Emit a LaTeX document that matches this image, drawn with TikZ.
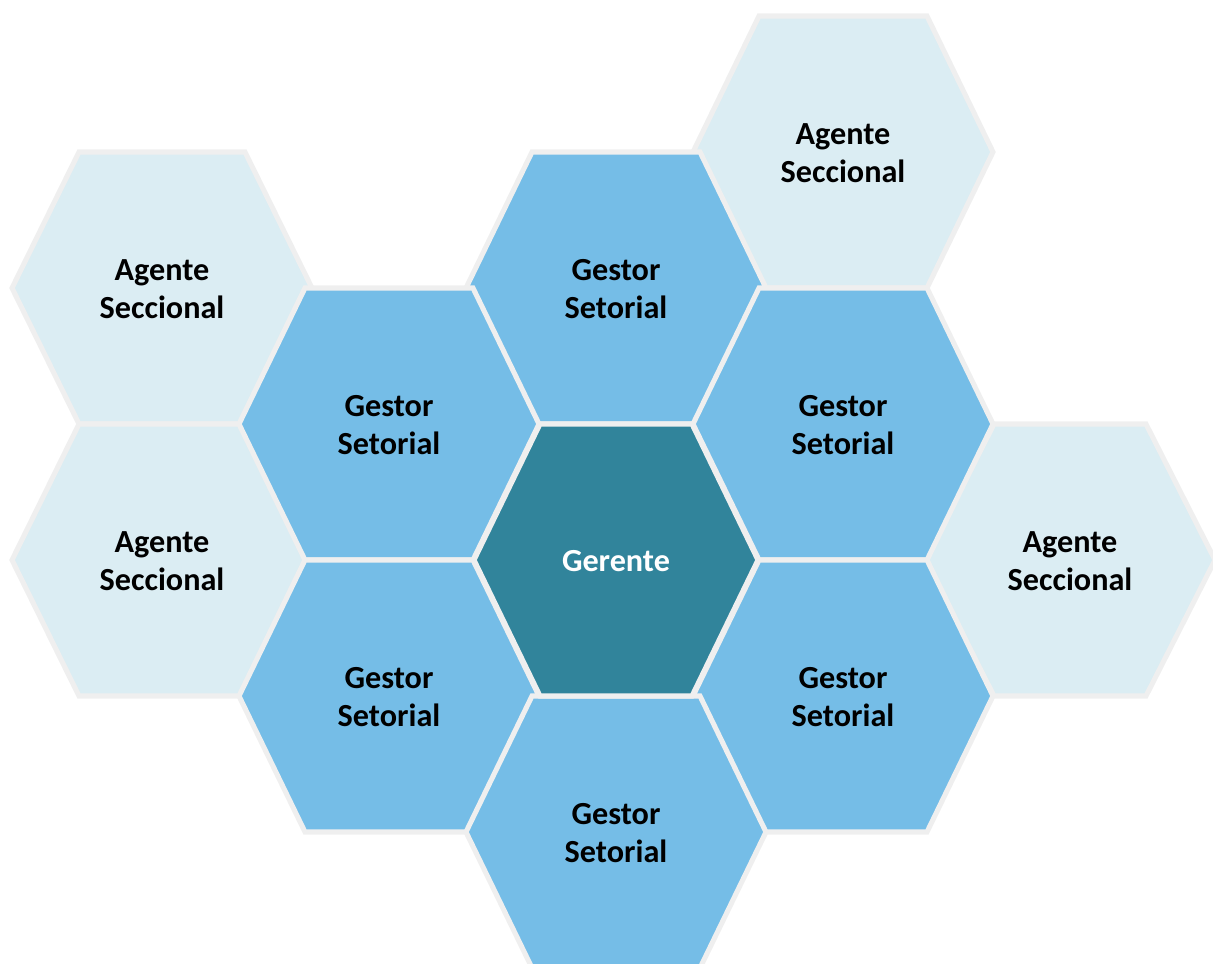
\documentclass[tikz,border=0pt]{standalone}
\usepackage{fontspec}
\setmainfont{Carlito}
\usetikzlibrary{positioning}

\definecolor{hexline}{HTML}{EFEFEF}
\definecolor{gerentefill}{HTML}{31849B}
\definecolor{gestorfill}{HTML}{75BDE7}
\definecolor{agentefill}{HTML}{DBEDF3}

\begin{document}
\begin{tikzpicture}[x=0.025cm,y=-0.025cm,
  hexcell/.style   ={draw=hexline,line width=3.6pt,line join=miter},
  gerentecell/.style={hexcell,fill=gerentefill},
  gestorcell/.style ={hexcell,fill=gestorfill},
  agentecell/.style ={hexcell,fill=agentefill},
  celltext/.style  ={align=center,font=\bfseries\fontsize{22.9}{26.6}\selectfont,inner sep=0pt},
  gerentetext/.style={celltext,text=white},
  gestortext/.style ={celltext,text=black},
  agentetext/.style ={celltext,text=black}
]
  % ----- frame of the picture -----
  \path[use as bounding box] (0,0) rectangle (1213,963);
  \clip (0,0) rectangle (1213,963);

  % ----- half height of every cell -----
  \def\hh{136}

  % ----- outer ring: agentes -----
  \foreach \nm/\cx/\cy/\R/\a in {agUL/162/288/150/83, agLL/162/560/150/83,
                                 agTR/843/152/150/84, agR/1070/560/145/76}{
    \draw[agentecell] (\cx-\R,\cy) -- (\cx-\a,\cy-\hh) -- (\cx+\a,\cy-\hh)
      -- (\cx+\R,\cy) -- (\cx+\a,\cy+\hh) -- (\cx-\a,\cy+\hh) -- cycle;
    \node[agentetext] (\nm) at (\cx,\cy+1) {Agente\\Seccional};
  }

  % ----- middle ring: gestores -----
  \foreach \nm/\cx/\cy in {gsT/616/288, gsUL/389/424, gsUR/843/424,
                           gsLL/389/696, gsLR/843/696, gsB/616/832}{
    \draw[gestorcell] (\cx-150,\cy) -- (\cx-84,\cy-\hh) -- (\cx+84,\cy-\hh)
      -- (\cx+150,\cy) -- (\cx+84,\cy+\hh) -- (\cx-84,\cy+\hh) -- cycle;
    \node[gestortext] (\nm) at (\cx,\cy+1) {Gestor\\Setorial};
  }

  % ----- centre: gerente -----
  \draw[gerentecell] (474,560) -- (540,424) -- (692,424)
    -- (758,560) -- (692,696) -- (540,696) -- cycle;
  \node[gerentetext] (ger) at (616,561) {Gerente};
\end{tikzpicture}
\end{document}
